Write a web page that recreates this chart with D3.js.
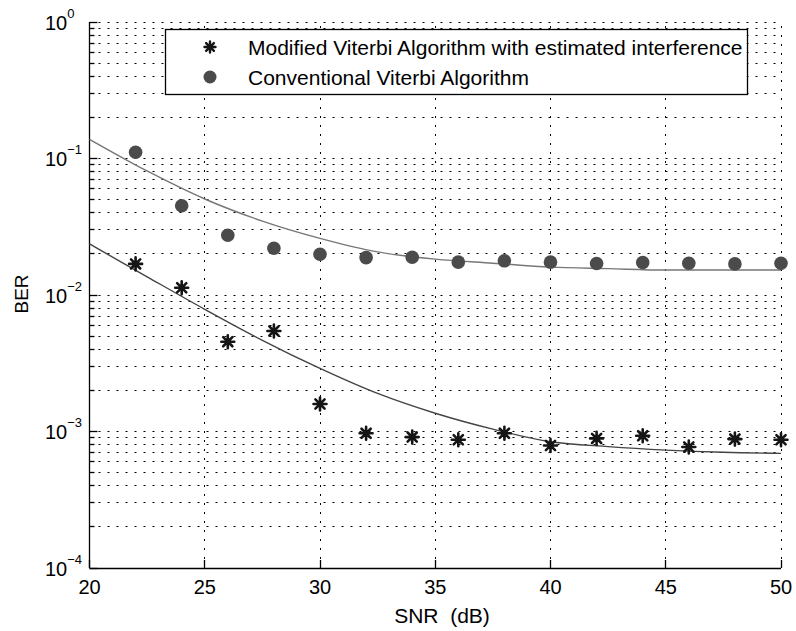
<!DOCTYPE html>
<html>
<head>
<meta charset="utf-8">
<script src="https://cdn.jsdelivr.net/npm/d3@7"></script>
<style>
  body { margin: 0; background: #fff; }
  svg { display: block; font-family: "Liberation Sans", Arial, Helvetica, sans-serif; }
</style>
</head>
<body>
<svg id="chart" width="796" height="631"></svg>
<script>
// SNR points where the simulations were run
const snr = [22, 24, 26, 28, 30, 32, 34, 36, 38, 40, 42, 44, 46, 48, 50]
const berModified = [0.0169, 0.0113, 0.00455, 0.00545, 0.00159, 0.00097, 0.00091, 0.00087, 0.00097, 0.00079, 0.00089, 0.00093, 0.00077, 0.00088, 0.00087]
const berConventional = [0.111, 0.0451, 0.0274, 0.0220, 0.0199, 0.0188, 0.0189, 0.0174, 0.0178, 0.0174, 0.0170, 0.0173, 0.0171, 0.0169, 0.0171]

// fitted trend lines
const fitSnr = [20, 22.5, 25, 27.5, 30, 32.5, 35, 37.5, 40, 42.5, 45, 47.5, 50]
const fitModified = [0.02365, 0.0136, 0.00786, 0.00466, 0.00290, 0.00190, 0.00136, 0.00104, 0.000842, 0.000775, 0.000731, 0.000704, 0.000692]
const fitConventional = [0.1383, 0.081, 0.0505, 0.0348, 0.0260, 0.0207, 0.0183, 0.0171, 0.0160, 0.0156, 0.01524, 0.01524, 0.01524]

const xTicks = [20, 25, 30, 35, 40, 45, 50]
const yDecades = [0, -1, -2, -3, -4]
const legendLabels = ['Modified Viterbi Algorithm with estimated interference', 'Conventional Viterbi Algorithm']

const margin = { left: 89.5, top: 22, right: 15, bottom: 63 }
const W = 796, H = 631
const svg = d3.select('#chart')

const x = d3.scaleLinear().domain([20, 50]).range([margin.left, W - margin.right])
const y = d3.scaleLog().domain([1e-4, 1]).range([H - margin.bottom, margin.top])

const x0 = x.range()[0], x1 = x.range()[1]
const y0 = y.range()[0], y1 = y.range()[1]
const snap = v => Math.round(v - 0.5) + 0.5

// minor + major horizontal grid values
const yGridVals = []
for (let e = -4; e < 0; e++) {
    for (let m = 1; m <= 9; m++) yGridVals.push(m * Math.pow(10, e))
}
yGridVals.push(1)

const grid = svg.append('g').attr('class', 'grid')
    .attr('stroke', '#000').attr('stroke-width', 1).attr('stroke-dasharray', '2,7')

grid.selectAll('line.h').data(yGridVals.filter(v => v > 1e-4)).enter()
    .append('line').attr('class', 'h')
    .attr('x1', x0).attr('x2', x1)
    .attr('y1', d => snap(y(d))).attr('y2', d => snap(y(d)))

grid.selectAll('line.v').data(xTicks.filter(v => v > 20)).enter()
    .append('line').attr('class', 'v')
    .attr('y1', y0).attr('y2', y1)
    .attr('x1', d => snap(x(d))).attr('x2', d => snap(x(d)))

// axes (left + bottom only)
const axes = svg.append('g').attr('stroke', '#000').attr('stroke-width', 1.3)
axes.append('line').attr('x1', snap(x0)).attr('x2', snap(x0)).attr('y1', y1).attr('y2', y0)
axes.append('line').attr('x1', x0).attr('x2', x1).attr('y1', snap(y0)).attr('y2', snap(y0))

// y ticks (inward)
axes.selectAll('line.yt').data(yGridVals).enter()
    .append('line').attr('class', 'yt')
    .attr('x1', x0).attr('x2', d => x0 + (Math.abs(Math.log10(d) % 1) < 1e-9 ? 8 : 5))
    .attr('y1', d => snap(y(d))).attr('y2', d => snap(y(d)))

axes.selectAll('line.xt').data(xTicks).enter()
    .append('line').attr('class', 'xt')
    .attr('x1', d => snap(x(d))).attr('x2', d => snap(x(d)))
    .attr('y1', y0).attr('y2', y0 - 8)

// tick labels
svg.append('g').selectAll('text').data(xTicks).enter()
    .append('text')
    .attr('x', d => x(d)).attr('y', y0 + 26)
    .attr('text-anchor', 'middle')
    .attr('font-size', 20)
    .text(d => d)

const yl = svg.append('g').selectAll('text').data(yDecades).enter()
    .append('text')
    .attr('x', 45).attr('y', d => y(Math.pow(10, d)) + 7.5)
    .attr('font-size', 20)
yl.append('tspan').text('10')
yl.append('tspan').attr('dy', -12).attr('font-size', 13)
    .text(d => d === 0 ? '0' : '\u2212' + Math.abs(d))

// axis titles
svg.append('text').attr('x', 442).attr('y', 623)
    .attr('text-anchor', 'middle').attr('font-size', 21)
    .attr('xml:space', 'preserve')
    .text('SNR  (dB)')

svg.append('text').attr('transform', 'translate(27.5,294) rotate(-90)')
    .attr('text-anchor', 'middle').attr('font-size', 19)
    .text('BER')

// fitted lines
const line = d3.line()
    .x(d => x(d[0])).y(d => y(d[1]))
    .curve(d3.curveMonotoneX)

svg.append('path')
    .datum(fitSnr.map((s, i) => [s, fitConventional[i]]))
    .attr('d', line).attr('fill', 'none')
    .attr('stroke', '#777').attr('stroke-width', 1.4)

svg.append('path')
    .datum(fitSnr.map((s, i) => [s, fitModified[i]]))
    .attr('d', line).attr('fill', 'none')
    .attr('stroke', '#444').attr('stroke-width', 1.4)

// markers
const starPath = r => {
    const p = d3.path()
    for (let k = 0; k < 4; k++) {
        const a = k * Math.PI / 4
        p.moveTo(-r * Math.cos(a), -r * Math.sin(a))
        p.lineTo(r * Math.cos(a), r * Math.sin(a))
    }
    return p.toString()
}

svg.append('g').selectAll('circle').data(snr).enter()
    .append('circle')
    .attr('cx', d => x(d))
    .attr('cy', (d, i) => y(berConventional[i]))
    .attr('r', 6.8)
    .attr('fill', '#4b4b4b')

svg.append('g').selectAll('path').data(snr).enter()
    .append('path')
    .attr('transform', (d, i) => `translate(${x(d)},${y(berModified[i])})`)
    .attr('d', starPath(6.5))
    .attr('stroke', '#151515').attr('stroke-width', 2.6)
    .attr('stroke-linecap', 'round')

// legend
const legend = svg.append('g')
legend.append('rect')
    .attr('x', 165.5).attr('y', 29.5).attr('width', 582).attr('height', 65)
    .attr('fill', '#fff').attr('stroke', '#000').attr('stroke-width', 1.3)

legend.append('path')
    .attr('transform', 'translate(210,47)')
    .attr('d', starPath(5.5))
    .attr('stroke', '#151515').attr('stroke-width', 2.4)
    .attr('stroke-linecap', 'round')
legend.append('circle').attr('cx', 210).attr('cy', 77).attr('r', 6.5).attr('fill', '#4b4b4b')

legend.selectAll('text').data(legendLabels).enter()
    .append('text')
    .attr('x', 248).attr('y', (d, i) => 54.5 + i * 30)
    .attr('font-size', 21)
    .text(d => d)
</script>
</body>
</html>
